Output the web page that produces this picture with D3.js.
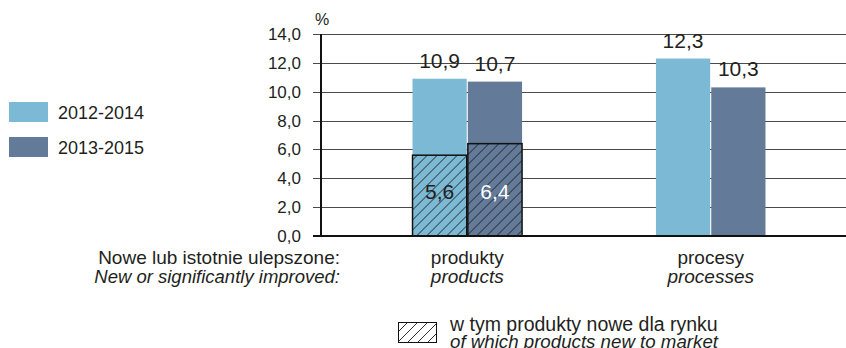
<!DOCTYPE html>
<html>
<head>
<meta charset="utf-8">
<script src="https://cdn.jsdelivr.net/npm/d3@7"></script>
<style>
  body { margin: 0; background: #fff; }
  svg text { font-family: "Liberation Sans", Arial, sans-serif; fill: #231f20; }
</style>
</head>
<body>
<svg width="846" height="348"></svg>
<script>
// data
const categories = ['produkty', 'procesy'];
const categoriesEn = ['products', 'processes'];
const seriesNames = ['2012-2014', '2013-2015'];
const totals = [[10.9, 10.7], [12.3, 10.3]];          // per category, per series
const newToMarket = [[5.6, 6.4], null];               // only products have this split
const yTicks = [0, 2, 4, 6, 8, 10, 12, 14];

const colors = ['#7cb9d4', '#637a98'];
const labelColors = ['#231f20', '#ffffff'];

const svg = d3.select('svg');
const pl = d3.formatLocale({decimal: ',', thousands: ' ', grouping: [3], currency: ['', '']});
const fmt = pl.format('.1f');

// plot area
const plotLeft = 321, plotRight = 846, plotTop = 34, plotBottom = 236;

const y = d3.scaleLinear().domain([0, 14]).range([plotBottom, plotTop]);
const x0 = d3.scaleBand().domain(categories).range([plotLeft, 857])
  .paddingInner(0.55).paddingOuter(0.376);
const x1 = d3.scaleBand().domain(seriesNames).range([0, x0.bandwidth()]).paddingInner(0.02);

// hatch pattern
const defs = svg.append('defs');
const pat = defs.append('pattern').attr('id', 'hatch')
  .attr('patternUnits', 'userSpaceOnUse').attr('width', 10).attr('height', 10);
pat.append('path').attr('d', 'M-2,12 L12,-2 M-2,2 L2,-2 M8,12 L12,8')
  .attr('stroke', '#1a1a1a').attr('stroke-width', 0.9);

// gridlines
svg.append('g').selectAll('line').data(yTicks.slice(1)).join('line')
  .attr('x1', 313).attr('x2', plotRight)
  .attr('y1', d => Math.round(y(d)) + 0.5).attr('y2', d => Math.round(y(d)) + 0.5)
  .attr('stroke', '#4a4a4a').attr('stroke-width', 1);

// y axis labels
const yAxis = svg.append('g').attr('transform', `translate(${plotLeft},0)`)
  .call(d3.axisLeft(y).tickValues(yTicks).tickSize(0).tickPadding(20).tickFormat(fmt));
yAxis.select('.domain').remove();
yAxis.selectAll('text').style('font-size', '17px').attr('fill', '#231f20');

svg.append('text').attr('x', 322).attr('y', 25).attr('text-anchor', 'middle')
  .style('font-size', '16px').text('%');

// bars
const groups = svg.append('g').selectAll('g').data(categories).join('g')
  .attr('transform', c => `translate(${x0(c)},0)`);

groups.each(function(c, ci) {
  const g = d3.select(this);
  seriesNames.forEach((s, si) => {
    const v = totals[ci][si];
    g.append('rect')
      .attr('x', x1(s)).attr('width', x1.bandwidth())
      .attr('y', y(v)).attr('height', plotBottom - y(v))
      .attr('fill', colors[si]);
    g.append('text')
      .attr('x', x1(s) + x1.bandwidth() / 2).attr('y', y(v) - 11)
      .attr('text-anchor', 'middle').style('font-size', '21px')
      .text(fmt(v));
    if (newToMarket[ci]) {
      const nv = newToMarket[ci][si];
      g.append('rect')
        .attr('x', x1(s)).attr('width', x1.bandwidth())
        .attr('y', y(nv)).attr('height', plotBottom - y(nv))
        .attr('fill', 'url(#hatch)').attr('stroke', '#111').attr('stroke-width', 1.5);
      g.append('text')
        .attr('x', x1(s) + x1.bandwidth() / 2).attr('y', y(2.55))
        .attr('text-anchor', 'middle').style('font-size', '21px')
        .style('fill', labelColors[si])
        .text(fmt(nv));
    }
  });
});

// axis lines
svg.append('line').attr('x1', plotLeft).attr('x2', plotLeft).attr('y1', plotTop).attr('y2', plotBottom + 1)
  .attr('stroke', '#111').attr('stroke-width', 2);
svg.append('line').attr('x1', 313).attr('x2', plotRight).attr('y1', plotBottom).attr('y2', plotBottom)
  .attr('stroke', '#111').attr('stroke-width', 2);

// category labels
const catX = c => x0(c) + x0.bandwidth() / 2;
svg.append('g').selectAll('text').data(categories).join('text')
  .attr('x', catX).attr('y', 264).attr('text-anchor', 'middle')
  .style('font-size', '19px').text(d => d);
svg.append('g').selectAll('text').data(categoriesEn).join('text')
  .attr('x', (d, i) => catX(categories[i])).attr('y', 283).attr('text-anchor', 'middle')
  .style('font-size', '19px').style('font-style', 'italic').text(d => d);
svg.append('text').attr('x', 340).attr('y', 264).attr('text-anchor', 'end')
  .style('font-size', '19px').text('Nowe lub istotnie ulepszone:');
svg.append('text').attr('x', 340).attr('y', 283).attr('text-anchor', 'end')
  .style('font-size', '18.5px').style('font-style', 'italic').text('New or significantly improved:');

// series legend
const leg = svg.append('g').selectAll('g').data(seriesNames).join('g')
  .attr('transform', (d, i) => `translate(9,${102 + i * 35})`);
leg.append('rect').attr('width', 39).attr('height', 20).attr('fill', (d, i) => colors[i]);
leg.append('text').attr('x', 49).attr('y', 17).style('font-size', '18px').text(d => d);

// hatch legend
svg.append('rect').attr('x', 398.5).attr('y', 322.5).attr('width', 38).attr('height', 20)
  .attr('fill', 'url(#hatch)').attr('stroke', '#111').attr('stroke-width', 1);
svg.append('text').attr('x', 450).attr('y', 331).style('font-size', '19.5px')
  .text('w tym produkty nowe dla rynku');
svg.append('text').attr('x', 450).attr('y', 348).style('font-size', '18.7px').style('font-style', 'italic')
  .text('of which products new to market');
</script>
</body>
</html>
